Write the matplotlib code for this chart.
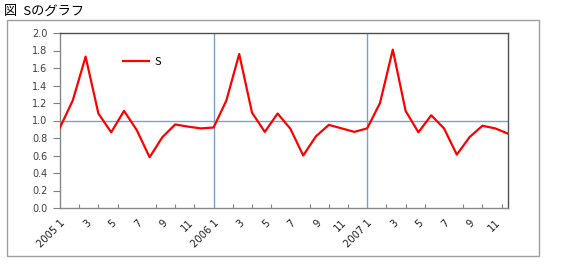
import matplotlib
matplotlib.use("Agg")
import matplotlib.pyplot as plt
from matplotlib.patches import Rectangle

plt.rcParams['font.family'] = ['Noto Sans CJK JP', 'DejaVu Sans']

years = ["2005", "2006", "2007"]
months = list(range(1, 13))
s_values = [0.92, 1.23, 1.73, 1.08, 0.865, 1.11, 0.89, 0.58, 0.81, 0.955, 0.93, 0.91,
            0.92, 1.23, 1.76, 1.09, 0.87, 1.08, 0.905, 0.60, 0.82, 0.95, 0.91, 0.87,
            0.91, 1.20, 1.81, 1.11, 0.865, 1.06, 0.91, 0.61, 0.81, 0.94, 0.91, 0.85]
series_name = "S"
title = "図  Sのグラフ"
y_ticks = [0.0, 0.2, 0.4, 0.6, 0.8, 1.0, 1.2, 1.4, 1.6, 1.8, 2.0]

labels = []
for y in years:
    for m in months:
        labels.append(f"{y} {m}" if m == 1 else str(m))

W, H = 577, 271
fig = plt.figure(figsize=(W / 100, H / 100), dpi=100)
fig.patch.set_facecolor('white')

# outer frame
fig.patches.append(Rectangle((7 / W, (H - 256) / H), 532 / W, 236 / H,
                             transform=fig.transFigure, fill=False,
                             edgecolor='#a0a0a0', linewidth=1.0))

fig.text(4 / W, 1 - 11 / H, title, fontsize=9.5, va='center', ha='left', color='black')

ax = fig.add_axes([60 / W, (H - 208) / H, 448 / W, 175 / H])
x = list(range(len(s_values)))

ax.axhline(1.0, color='#7aa0d4', linewidth=1.0, zorder=1)
for i, lab in enumerate(labels):
    if lab.startswith("2006") or lab.startswith("2007"):
        ax.axvline(i, color='#7aa0d4', linewidth=1.0, zorder=1)

ax.plot(x, s_values, color='#ff0000', linewidth=1.6, label=series_name, zorder=3)

ax.set_xlim(0, len(s_values) - 1)
ax.set_ylim(0, 2.0)
ax.set_yticks(y_ticks)
ax.set_yticklabels([f"{v:.1f}" for v in y_ticks], fontsize=7, color='#404040',
                   family='DejaVu Sans')
ax.tick_params(axis='y', direction='out', length=5, color='#808080', width=0.8, pad=4)

major = x[::2]
ax.set_xticks(major)
ax.set_xticklabels([labels[i] for i in major], rotation=45, ha='right',
                   rotation_mode='anchor', fontsize=7.2, color='#202020',
                   family='DejaVu Sans')
ax.tick_params(axis='x', which='major', length=0, pad=7)
minor = [i * 1.5 for i in range(24)]
ax.set_xticks(minor, minor=True)
ax.tick_params(axis='x', which='minor', direction='in', length=3, color='#808080', width=0.8)

for side in ['top', 'right']:
    ax.spines[side].set_color('#505050')
    ax.spines[side].set_linewidth(1.0)
for side in ['left', 'bottom']:
    ax.spines[side].set_color('#888888')
    ax.spines[side].set_linewidth(1.0)

ax.legend(loc='center left', bbox_to_anchor=(0.13, 0.836), frameon=False,
          handlelength=2.4, fontsize=8, borderaxespad=0, handletextpad=0.5)

fig.savefig("out.png", dpi=100, facecolor='white')
